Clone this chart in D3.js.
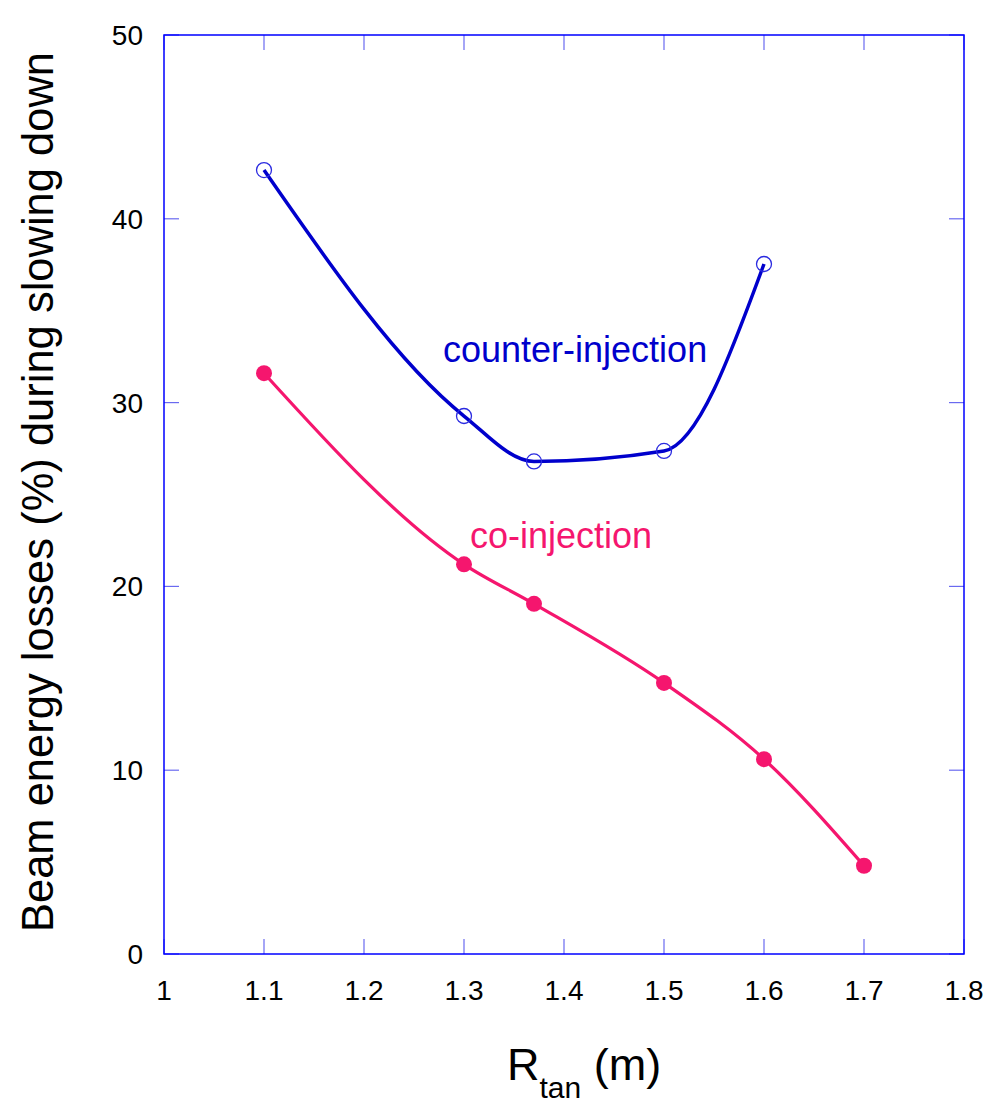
<!DOCTYPE html>
<html>
<head>
<meta charset="utf-8">
<script src="https://cdn.jsdelivr.net/npm/d3@7"></script>
<style>
  body { margin: 0; background: #fff; }
  text { font-family: Arial, "Liberation Sans", sans-serif; }
</style>
</head>
<body>
<svg id="chart" width="993" height="1108"></svg>
<script>
// Tangency radius of the injected beam (m)
const rtanCounter = [1.1, 1.3, 1.37, 1.5, 1.6];
const lossCounter = [42.65, 29.27, 26.8, 27.37, 37.54];
const rtanCo = [1.1, 1.3, 1.37, 1.5, 1.6, 1.7];
const lossCo = [31.6, 21.2, 19.05, 14.75, 10.6, 4.8];
const xTicks = [1, 1.1, 1.2, 1.3, 1.4, 1.5, 1.6, 1.7, 1.8];
const yTicks = [0, 10, 20, 30, 40, 50];

const svg = d3.select("#chart");
const plotL = 164, plotR = 964, plotT = 35, plotB = 954;

const x = d3.scaleLinear().domain([1, 1.8]).range([plotL, plotR]);
const y = d3.scaleLinear().domain([0, 50]).range([plotB, plotT]);

const frame = "#0000ff";
const tickCol = "#6a6af0";
const blue = "#0000cc";
const pink = "#f5166e";

// inward ticks on all four sides
const tickLen = 15;
const g = svg.append("g");
xTicks.forEach(t => {
  g.append("line").attr("x1", x(t)).attr("x2", x(t)).attr("y1", plotB).attr("y2", plotB - tickLen)
    .attr("stroke", tickCol).attr("stroke-width", 1.2);
  g.append("line").attr("x1", x(t)).attr("x2", x(t)).attr("y1", plotT).attr("y2", plotT + tickLen)
    .attr("stroke", tickCol).attr("stroke-width", 1.2);
  g.append("text").attr("x", x(t)).attr("y", 1000).attr("text-anchor", "middle")
    .attr("font-size", 28).attr("fill", "#000").text(d3.format("")(t));
});
yTicks.forEach(t => {
  g.append("line").attr("x1", plotL).attr("x2", plotL + tickLen).attr("y1", y(t)).attr("y2", y(t))
    .attr("stroke", tickCol).attr("stroke-width", 1.2);
  g.append("line").attr("x1", plotR).attr("x2", plotR - tickLen).attr("y1", y(t)).attr("y2", y(t))
    .attr("stroke", tickCol).attr("stroke-width", 1.2);
  g.append("text").attr("x", 143).attr("y", y(t)).attr("dy", "0.36em").attr("text-anchor", "end")
    .attr("font-size", 28).attr("fill", "#000").text(t);
});

// frame
svg.append("rect").attr("x", plotL).attr("y", plotT).attr("width", plotR - plotL).attr("height", plotB - plotT)
  .attr("fill", "none").attr("stroke", frame).attr("stroke-width", 1.5);

const line = d3.line().x(d => x(d[0])).y(d => y(d[1])).curve(d3.curveMonotoneX);

const counter = rtanCounter.map((r, i) => [r, lossCounter[i]]);
const co = rtanCo.map((r, i) => [r, lossCo[i]]);

svg.append("path").datum(counter).attr("d", line).attr("fill", "none")
  .attr("stroke", blue).attr("stroke-width", 3.5);
svg.selectAll(".oc").data(counter).enter().append("circle")
  .attr("cx", d => x(d[0])).attr("cy", d => y(d[1])).attr("r", 7.5)
  .attr("fill", "none").attr("stroke", "#2a2ae0").attr("stroke-width", 1.3);

svg.append("path").datum(co).attr("d", line).attr("fill", "none")
  .attr("stroke", pink).attr("stroke-width", 3.2);
svg.selectAll(".fc").data(co).enter().append("circle")
  .attr("cx", d => x(d[0])).attr("cy", d => y(d[1])).attr("r", 8)
  .attr("fill", pink);

// series labels
svg.append("text").attr("x", 443).attr("y", 362).attr("font-size", 36).attr("fill", blue)
  .text("counter-injection");
svg.append("text").attr("x", 470).attr("y", 548).attr("font-size", 36).attr("fill", pink)
  .text("co-injection");

// axis titles
svg.append("text").attr("transform", "translate(53,492) rotate(-90)").attr("text-anchor", "middle")
  .attr("font-size", 43.5).attr("fill", "#000").text("Beam energy losses (%) during slowing down");

const xt = svg.append("text").attr("x", 507).attr("y", 1080).attr("font-size", 45).attr("fill", "#000");
xt.append("tspan").text("R");
xt.append("tspan").attr("font-size", 30).attr("dy", 18).text("tan");
xt.append("tspan").attr("dy", -18).text("\u00a0(m)");
</script>
</body>
</html>
